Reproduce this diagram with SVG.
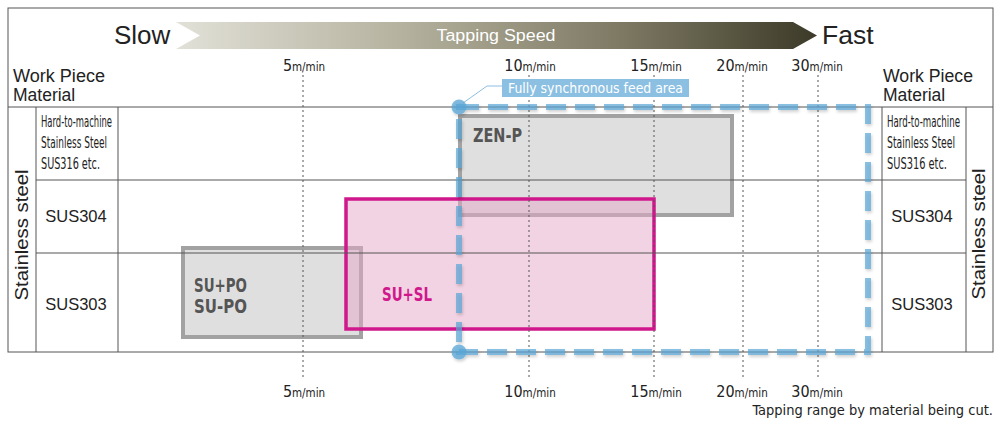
<svg xmlns="http://www.w3.org/2000/svg" width="1000" height="432" viewBox="0 0 1000 432">
<style>
.sans{font-family:"Liberation Sans","Noto Sans",sans-serif;fill:#222}
.nar{font-family:"Liberation Sans Narrow","DejaVu Sans Condensed","Liberation Sans",sans-serif;fill:#222}
.grid{stroke:#555;stroke-width:1;fill:none}
.spd{stroke:#555;stroke-width:1;stroke-dasharray:2 3;fill:none}
.box{fill:#dcdcdc;fill-opacity:0.9;stroke:#a2a2a2;stroke-width:4}
.lbl{font-family:"Liberation Sans Narrow","DejaVu Sans Condensed","Liberation Sans",sans-serif;font-weight:bold;fill:#555}
.big{font-size:16px}
.sm{font-size:11.5px}
</style>
<defs>
<linearGradient id="arrowGrad" x1="0" y1="0" x2="1" y2="0">
<stop offset="0" stop-color="#e2e1d8"/>
<stop offset="0.35" stop-color="#b5b29f"/>
<stop offset="0.7" stop-color="#7c7862"/>
<stop offset="1" stop-color="#3c3a28"/>
</linearGradient>
<filter id="shadow" x="-10%" y="-10%" width="120%" height="120%">
<feDropShadow dx="1" dy="2" stdDeviation="1.5" flood-color="#000" flood-opacity="0.25"/>
</filter>
</defs>
<rect width="1000" height="432" fill="#fff"/>

<g id="header">
<polygon points="176,22 793,22 817,35.5 793,49 176,49 200,35.5" fill="url(#arrowGrad)"/>
<text class="sans" x="114" y="44" font-size="26">Slow</text>
<text class="sans" x="822" y="44" font-size="26.5">Fast</text>
<text x="496" y="41" font-family="Liberation Sans,Noto Sans,sans-serif" font-size="16" fill="#fff" text-anchor="middle" textLength="119" lengthAdjust="spacingAndGlyphs">Tapping Speed</text>
</g>

<g id="boxes">
<g id="su-po">
<rect class="box" x="183" y="248" width="178" height="89"/>
<text class="lbl" x="194" y="292" font-size="19" textLength="53" lengthAdjust="spacingAndGlyphs">SU+PO</text>
<text class="lbl" x="194" y="313" font-size="19" textLength="53" lengthAdjust="spacingAndGlyphs">SU-PO</text>
</g>
<g id="zen-p">
<rect class="box" x="460" y="116" width="272" height="99"/>
<text class="lbl" x="473" y="142" font-size="20" textLength="49" lengthAdjust="spacingAndGlyphs">ZEN-P</text>
</g>
<g id="su-sl">
<rect x="346" y="199" width="308" height="130" fill="#e5a7c7" fill-opacity="0.5" stroke="#d0188c" stroke-width="3.5"/>
<text x="382" y="301" font-family="Liberation Sans Narrow,DejaVu Sans Condensed,Liberation Sans,sans-serif" font-weight="bold" font-size="19" fill="#d0188c" textLength="50" lengthAdjust="spacingAndGlyphs">SU+SL</text>
</g>
</g>

<g id="table">
<rect class="grid" x="8" y="8" width="985" height="344"/>
<path class="grid" d="M8,107 H993 M36,107 V352 M118,107 V352 M882,107 V352 M966,107 V352 M36,180 H966 M36,253 H966"/>
<text class="sans" x="13" y="82" font-size="17.5" textLength="92" lengthAdjust="spacingAndGlyphs">Work Piece</text>
<text class="sans" x="13" y="101" font-size="17.5">Material</text>
<text class="sans" x="883" y="82" font-size="17.5" textLength="90" lengthAdjust="spacingAndGlyphs">Work Piece</text>
<text class="sans" x="883" y="101" font-size="17.5">Material</text>
<text class="sans" font-size="17.5" text-anchor="middle" transform="translate(28,235) rotate(-90)" textLength="131" lengthAdjust="spacingAndGlyphs">Stainless steel</text>
<text class="sans" font-size="17.5" text-anchor="middle" transform="translate(985,234) rotate(-90)" textLength="131" lengthAdjust="spacingAndGlyphs">Stainless steel</text>
<text class="nar" x="41" y="127" font-size="15" textLength="71" lengthAdjust="spacingAndGlyphs">Hard-to-machine</text>
<text class="nar" x="41" y="148" font-size="15" textLength="66" lengthAdjust="spacingAndGlyphs">Stainless Steel</text>
<text class="nar" x="41" y="169" font-size="15" textLength="59" lengthAdjust="spacingAndGlyphs">SUS316 etc.</text>
<text class="nar" x="887" y="127" font-size="15" textLength="73" lengthAdjust="spacingAndGlyphs">Hard-to-machine</text>
<text class="nar" x="887" y="148" font-size="15" textLength="68" lengthAdjust="spacingAndGlyphs">Stainless Steel</text>
<text class="nar" x="887" y="169" font-size="15" textLength="60" lengthAdjust="spacingAndGlyphs">SUS316 etc.</text>
<text class="sans" x="76" y="222" font-size="16.5" text-anchor="middle">SUS304</text>
<text class="sans" x="76" y="310" font-size="16.5" text-anchor="middle">SUS303</text>
<text class="sans" x="922" y="222" font-size="16.5" text-anchor="middle">SUS304</text>
<text class="sans" x="922" y="310" font-size="16.5" text-anchor="middle">SUS303</text>
</g>

<g id="speeds">
<path class="spd" d="M303,75 V380 M529,75 V380 M654,75 V380 M743,75 V380 M818,75 V380"/>
<text class="nar" x="304" y="71" text-anchor="middle"><tspan class="big">5</tspan><tspan class="sm">m/min</tspan></text>
<text class="nar" x="530" y="71" text-anchor="middle"><tspan class="big">10</tspan><tspan class="sm">m/min</tspan></text>
<text class="nar" x="656" y="71" text-anchor="middle"><tspan class="big">15</tspan><tspan class="sm">m/min</tspan></text>
<text class="nar" x="742" y="71" text-anchor="middle"><tspan class="big">20</tspan><tspan class="sm">m/min</tspan></text>
<text class="nar" x="817" y="71" text-anchor="middle"><tspan class="big">30</tspan><tspan class="sm">m/min</tspan></text>
<text class="nar" x="304" y="397" text-anchor="middle"><tspan class="big">5</tspan><tspan class="sm">m/min</tspan></text>
<text class="nar" x="530" y="397" text-anchor="middle"><tspan class="big">10</tspan><tspan class="sm">m/min</tspan></text>
<text class="nar" x="656" y="397" text-anchor="middle"><tspan class="big">15</tspan><tspan class="sm">m/min</tspan></text>
<text class="nar" x="742" y="397" text-anchor="middle"><tspan class="big">20</tspan><tspan class="sm">m/min</tspan></text>
<text class="nar" x="817" y="397" text-anchor="middle"><tspan class="big">30</tspan><tspan class="sm">m/min</tspan></text>
</g>

<g id="sync-area">
<path d="M463,103 L487,86 H502" fill="none" stroke="#8cc0e2" stroke-width="1"/>
<rect x="502" y="79" width="187" height="18" fill="#8cc0e2"/>
<text x="508" y="93" font-family="Liberation Sans Narrow,DejaVu Sans Condensed,Liberation Sans,sans-serif" font-size="14.5" fill="#fff" textLength="175" lengthAdjust="spacingAndGlyphs">Fully synchronous feed area</text>
<g filter="url(#shadow)">
<path d="M459,107 H868 V352 H459 Z" fill="none" stroke="#5aa5d5" stroke-opacity="0.7" stroke-width="6" stroke-dasharray="20 9"/>
<circle cx="459" cy="107" r="7.5" fill="#5aa5d5" fill-opacity="0.75"/>
<circle cx="459" cy="352" r="7.5" fill="#5aa5d5" fill-opacity="0.75"/>
</g>
</g>

<text class="nar" x="993" y="415" font-size="14.5" text-anchor="end">Tapping range by material being cut.</text>
</svg>
